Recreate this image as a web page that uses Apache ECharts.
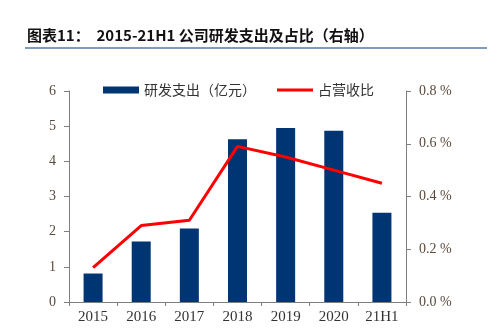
<!DOCTYPE html>
<html><head><meta charset="utf-8">
<script src="https://cdn.jsdelivr.net/npm/echarts@6/dist/echarts.min.js"></script>
<style>html,body{margin:0;padding:0;background:#fff}#c{width:500px;height:329px}</style>
</head><body><div id="c"></div>
<script>
const categories = ['2015','2016','2017','2018','2019','2020','21H1'];
const rdSpend = [0.81, 1.72, 2.09, 4.63, 4.95, 4.87, 2.54];
const rdRatio = [0.13, 0.29, 0.31, 0.59, 0.55, 0.50, 0.45];
const leftTicks = [0, 1, 2, 3, 4, 5, 6];
const rightTicks = [0, 0.2, 0.4, 0.6, 0.8];
const seriesNames = ['研发支出（亿元）', '占营收比'];
const titleText = '图表11：  2015-21H1 公司研发支出及占比（右轴）';

const chart = echarts.init(document.getElementById('c'), null, {renderer:'canvas'});
const numFont = '"Liberation Serif", "DejaVu Serif", serif';
const cjkFont = '"Noto Sans CJK SC", sans-serif';
chart.setOption({
  animation: false,
  backgroundColor: '#fff',
  title: {
    text: titleText, left: 22, top: 23,
    textStyle: {fontSize: 15, fontWeight: 'bold', color: '#111', fontFamily: cjkFont}
  },
  graphic: [{
    type: 'line', shape: {x1: 25, y1: 48, x2: 487, y2: 48},
    style: {stroke: '#7f9cc0', lineWidth: 2}
  }],
  legend: {
    left: 98, top: 78, itemWidth: 36, itemHeight: 7, itemGap: 21,
    textStyle: {fontSize: 14, color: '#333', fontFamily: cjkFont},
    data: [{name: seriesNames[0], icon: 'rect'},
           {name: seriesNames[1], icon: 'path://M0,0H36V3H0Z', itemStyle: {color: '#ff0000'}}]
  },
  grid: {left: 69, right: 94, top: 91, bottom: 27, containLabel: false},
  xAxis: {
    type: 'category', data: categories,
    axisLine: {lineStyle: {color: '#7f7f7f', width: 1}},
    axisTick: {show: true, length: 4, lineStyle: {color: '#7f7f7f'}},
    axisLabel: {fontSize: 15, color: '#333', fontFamily: numFont, margin: 8}
  },
  yAxis: [{
    type: 'value', min: leftTicks[0], max: leftTicks[leftTicks.length-1], interval: 1,
    axisLine: {show: true, lineStyle: {color: '#7f7f7f'}},
    axisTick: {show: true, length: 5, lineStyle: {color: '#7f7f7f'}},
    splitLine: {show: false},
    axisLabel: {fontSize: 14, color: '#5a4a3c', fontFamily: numFont, margin: 13}
  }, {
    type: 'value', min: rightTicks[0], max: rightTicks[rightTicks.length-1], interval: 0.2,
    position: 'right',
    axisLine: {show: true, lineStyle: {color: '#7f7f7f'}},
    axisTick: {show: true, length: 5, lineStyle: {color: '#7f7f7f'}},
    splitLine: {show: false},
    axisLabel: {fontSize: 14, color: '#5a4a3c', fontFamily: numFont, margin: 13,
      formatter: v => v.toFixed(1) + ' %'}
  }],
  series: [{
    name: seriesNames[0], type: 'bar', data: rdSpend, barWidth: 19,
    itemStyle: {color: '#003574'}
  }, {
    name: seriesNames[1], type: 'line', yAxisIndex: 1, data: rdRatio,
    symbol: 'none', lineStyle: {color: '#ff0000', width: 3}, itemStyle: {color: '#ff0000'}
  }]
});
</script></body></html>
